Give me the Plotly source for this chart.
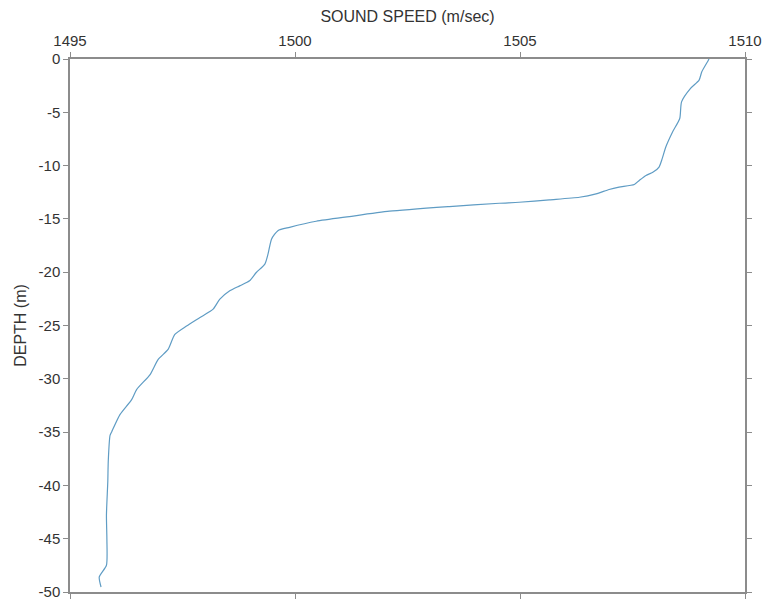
import plotly.graph_objects as go

depth_m = [0, -0.16, -1.2, -1.98, -2.76, -4.02, -5.58, -6.85, -8.26, -9.35, -10.14,
           -10.61, -10.92, -11.39, -11.77, -12.02, -12.24, -12.65, -12.97, -13.21,
           -13.44, -13.53, -13.84, -14.28, -14.78, -15.22, -15.79, -16.10, -16.88,
           -18.30, -19.24, -20.03, -20.81, -21.28, -21.75, -22.53, -23.47, -24.27,
           -25.05, -25.83, -27.24, -28.18, -29.60, -31.01, -31.95, -33.36, -34.94,
           -35.31, -37.76, -39.64, -42.78, -45.1, -47.49, -48.59, -49.53]
sound_speed = [1509.20, 1509.18, 1509.04, 1508.98, 1508.79, 1508.59, 1508.55, 1508.39,
               1508.24, 1508.16, 1508.09, 1507.96, 1507.80, 1507.65, 1507.54, 1507.20,
               1506.98, 1506.69, 1506.32, 1505.65, 1504.98, 1504.54, 1503.43, 1502.10,
               1501.21, 1500.47, 1499.88, 1499.62, 1499.48, 1499.40, 1499.33, 1499.14,
               1498.99, 1498.77, 1498.55, 1498.33, 1498.18, 1497.88, 1497.59, 1497.33,
               1497.18, 1496.96, 1496.78, 1496.48, 1496.37, 1496.11, 1495.93, 1495.89,
               1495.85, 1495.84, 1495.81, 1495.82, 1495.81, 1495.65, 1495.69]

x_ticks = [1495, 1500, 1505, 1510]
y_ticks = [0, -5, -10, -15, -20, -25, -30, -35, -40, -45, -50]

fig = go.Figure()
fig.add_trace(go.Scatter(x=sound_speed, y=depth_m, mode="lines",
                         line=dict(color="#5f9cc4", width=1.2, shape="spline",
                                   smoothing=0.6),
                         showlegend=False))

font = dict(family="Liberation Sans, Arial, sans-serif", color="#333333")
fig.update_layout(
    width=765, height=599,
    margin=dict(l=70, r=20, t=59, b=7, autoexpand=False),
    paper_bgcolor="white", plot_bgcolor="white",
    font=dict(**font, size=15),
    xaxis=dict(side="top", range=[1495, 1510], tickvals=x_ticks,
               ticktext=[str(v) for v in x_ticks], automargin=False,
               ticklabeloverflow="allow",
               showgrid=False, zeroline=False, showline=True, linecolor="#8c8c8c",
               linewidth=1.5, mirror="ticks", ticks="outside", ticklen=5,
               tickcolor="#8c8c8c", tickfont=dict(size=15),
               title=dict(text="SOUND SPEED (m/sec)", font=dict(size=16), standoff=6)),
    yaxis=dict(range=[-50, 0], tickvals=y_ticks, ticktext=[str(v) for v in y_ticks],
               automargin=False, ticklabeloverflow="allow",
               showgrid=False, zeroline=False, showline=True, linecolor="#8c8c8c",
               linewidth=1.5, mirror="ticks", ticks="outside", ticklen=5,
               tickcolor="#8c8c8c", tickfont=dict(size=15),
               title=dict(text="DEPTH (m)", font=dict(size=16), standoff=8)),
)
fig.write_html("out.html", config={"displayModeBar": False},
               post_script="document.body.style.margin='0';document.body.style.overflow='hidden';")
